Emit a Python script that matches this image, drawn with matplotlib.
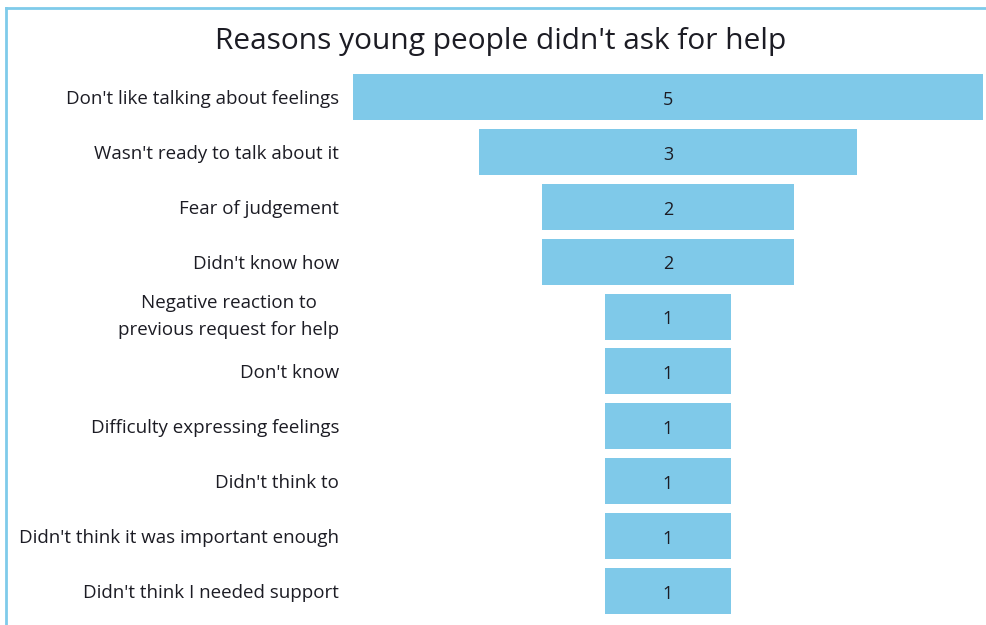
import matplotlib
matplotlib.use("Agg")
import matplotlib.pyplot as plt
from matplotlib.lines import Line2D

categories = [
    "Don't like talking about feelings",
    "Wasn't ready to talk about it",
    "Fear of judgement",
    "Didn't know how",
    "Negative reaction to\nprevious request for help",
    "Don't know",
    "Difficulty expressing feelings",
    "Didn't think to",
    "Didn't think it was important enough",
    "Didn't think I needed support",
]
counts = [5, 3, 2, 2, 1, 1, 1, 1, 1, 1]
title = "Reasons young people didn't ask for help"

bar_color = "#7fc9e9"
text_color = "#1c1c24"
frame_color = "#7fcbea"

plt.rcParams["font.family"] = ["Open Sans", "DejaVu Sans"]

W, H = 986, 625
fig = plt.figure(figsize=(W / 100, H / 100), dpi=100)
fig.patch.set_facecolor("white")

ax = fig.add_axes([353 / W, 1 - 618.4 / H, 630 / W, (618.4 - 69.6) / H])
ypos = list(range(len(categories)))
lefts = [-c / 2 for c in counts]
ax.barh(ypos, counts, left=lefts, height=0.84, color=bar_color, edgecolor="none")
for y, c in zip(ypos, counts):
    ax.text(0, y + 0.05, str(c), ha="center", va="center", fontsize=13, color=text_color)

ax.set_xlim(-2.5, 2.5)
ax.set_ylim(len(categories) - 0.5, -0.5)
ax.set_yticks(ypos)
ax.set_yticklabels(categories, fontsize=13.5, color=text_color)
for lbl in ax.get_yticklabels():
    lbl.set_multialignment("center")
    if "\n" in lbl.get_text():
        lbl.set_linespacing(1.65)
        lbl.set_verticalalignment("center")
ax.tick_params(axis="y", length=0, pad=10)
ax.set_xticks([])
for s in ax.spines.values():
    s.set_visible(False)

fig.text(501 / W, 1 - 42 / H, title, ha="center", va="center", fontsize=21.5, color=text_color)

# light blue frame along the top and left edges
fig.add_artist(Line2D([6 / W, 1.0], [1 - 8 / H, 1 - 8 / H], color=frame_color, lw=2, transform=fig.transFigure))
fig.add_artist(Line2D([6 / W, 6 / W], [1 - 8 / H, 0], color=frame_color, lw=2, transform=fig.transFigure))

fig.savefig("out.png", dpi=100, facecolor="white")
